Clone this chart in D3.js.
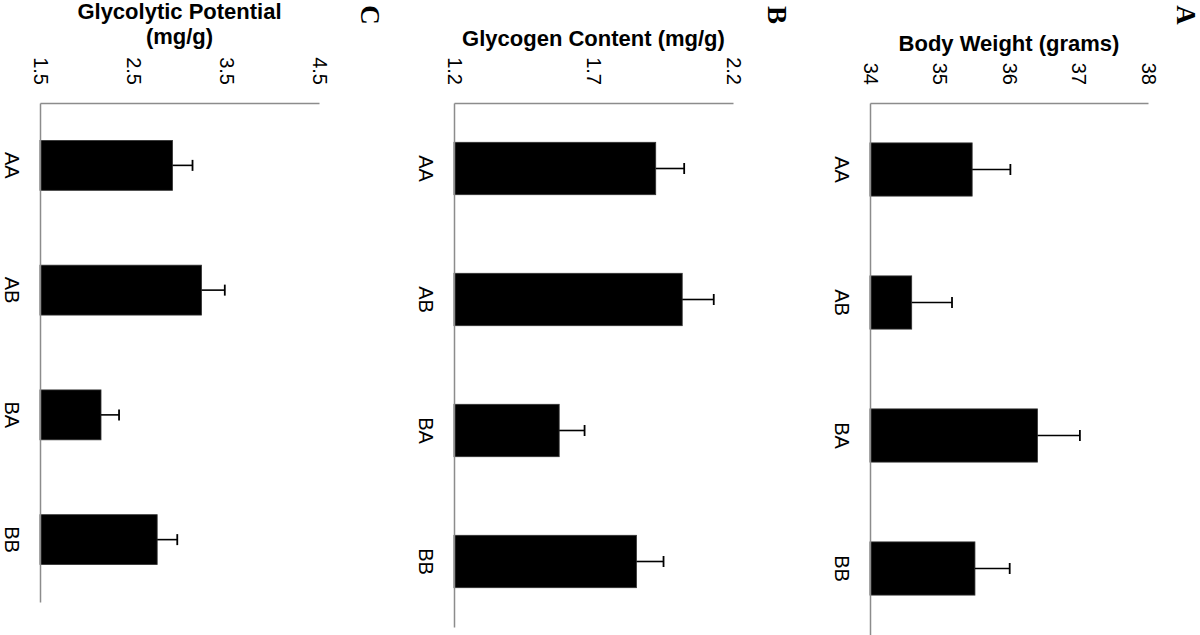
<!DOCTYPE html>
<html>
<head>
<meta charset="utf-8">
<script src="https://cdn.jsdelivr.net/npm/d3@7"></script>
<style>
  body { margin: 0; background: #fff; }
  svg { display: block; font-family: "Liberation Sans", Arial, sans-serif; }
</style>
</head>
<body>
<svg id="chart" width="1200" height="635"></svg>
<script>
// genotypes, shared by all three panels
const genotypes = ["AA", "AB", "BA", "BB"];

// A - body weight
const weightMean = [35.47, 34.6, 36.41, 35.51];
const weightErr = [0.55, 0.58, 0.61, 0.5];
const weightTicks = [34, 35, 36, 37, 38];

// B - glycogen content
const glycogenMean = [1.923, 2.018, 1.577, 1.854];
const glycogenErr = [0.102, 0.113, 0.091, 0.097];
const glycogenTicks = [1.2, 1.7, 2.2];

// C - glycolytic potential
const potentialMean = [2.925, 3.237, 2.156, 2.76];
const potentialErr = [0.215, 0.25, 0.194, 0.216];
const potentialTicks = [1.5, 2.5, 3.5, 4.5];

const svg = d3.select("#chart");
const axisColor = "#8c8c8c";

function drawPanel(opts) {
    const x = d3.scaleLinear()
        .domain(d3.extent(opts.ticks))
        .range([opts.left, opts.right]);
    const y = d3.scaleBand()
        .domain(genotypes)
        .range([opts.top, opts.bottom])
        .paddingInner(0.6)
        .paddingOuter(0.3);

    const g = svg.append("g");
    const rows = genotypes.map((k, i) => ({ key: k, v: opts.mean[i], e: opts.err[i] }));

    // bars
    g.selectAll("rect.bar")
        .data(rows)
        .enter().append("rect")
        .attr("class", "bar")
        .attr("x", x(opts.ticks[0]))
        .attr("y", d => y(d.key))
        .attr("width", d => x(d.v) - x(opts.ticks[0]))
        .attr("height", y.bandwidth())
        .attr("fill", "#000")
        .attr("stroke", "#333")
        .attr("stroke-width", 0.8);

    // error bars (upper side only)
    const eb = g.selectAll("g.err")
        .data(rows)
        .enter().append("g")
        .attr("class", "err")
        .attr("transform", d => `translate(0,${y(d.key) + y.bandwidth() / 2})`);
    eb.append("line")
        .attr("x1", d => x(d.v))
        .attr("x2", d => x(d.v + d.e))
        .attr("stroke", "#000")
        .attr("stroke-width", 1.6);
    eb.append("line")
        .attr("x1", d => x(d.v + d.e))
        .attr("x2", d => x(d.v + d.e))
        .attr("y1", -5.5)
        .attr("y2", 5.5)
        .attr("stroke", "#000")
        .attr("stroke-width", 1.8);

    // value axis (top)
    const top = g.append("g")
        .attr("transform", `translate(0,${opts.top})`)
        .call(d3.axisTop(x).tickValues(opts.ticks).tickSize(0).tickPadding(0)
            .tickFormat(opts.fmt));
    top.select(".domain").attr("stroke", axisColor).attr("stroke-width", 1.5);
    top.selectAll("text")
        .attr("font-size", 20)
        .attr("fill", "#000")
        .attr("text-anchor", "end")
        .attr("dominant-baseline", "central")
        .attr("dy", null)
        .attr("y", null)
        .attr("transform", "translate(0,-18) rotate(90)");

    // category axis (left)
    const left = g.append("g")
        .attr("transform", `translate(${opts.left},0)`)
        .call(d3.axisLeft(y).tickSize(0).tickPadding(0));
    left.select(".domain").attr("stroke", axisColor).attr("stroke-width", 1.5);
    left.selectAll("text")
        .attr("font-size", 20)
        .attr("fill", "#000")
        .attr("text-anchor", "middle")
        .attr("dominant-baseline", "central")
        .attr("x", null)
        .attr("dy", null)
        .attr("transform", "translate(-28,0) rotate(90)");

    // axis title (upright)
    const cx = (opts.left + opts.right) / 2;
    const title = g.append("text")
        .attr("x", cx)
        .attr("text-anchor", "middle")
        .attr("font-size", 22)
        .attr("font-weight", "bold");
    opts.title.forEach((line, i) => {
        title.append("tspan")
            .attr("x", cx)
            .attr("y", opts.titleY[i])
            .text(line);
    });

    // panel letter
    svg.append("text")
        .attr("transform", `translate(${opts.letterX},15) rotate(90)`)
        .attr("text-anchor", "middle")
        .attr("dominant-baseline", "central")
        .attr("font-family", "'Liberation Serif', 'Times New Roman', serif")
        .attr("font-weight", "bold")
        .attr("font-size", 27)
        .text(opts.letter);
}

drawPanel({
    mean: weightMean, err: weightErr, ticks: weightTicks, fmt: d3.format("d"),
    left: 870, right: 1148, top: 103, bottom: 635,
    title: ["Body Weight (grams)"], titleY: [51],
    letter: "A", letterX: 1186
});

drawPanel({
    mean: glycogenMean, err: glycogenErr, ticks: glycogenTicks, fmt: d3.format(".1f"),
    left: 454, right: 733, top: 103, bottom: 627,
    title: ["Glycogen Content (mg/g)"], titleY: [46],
    letter: "B", letterX: 777
});

drawPanel({
    mean: potentialMean, err: potentialErr, ticks: potentialTicks, fmt: d3.format(".1f"),
    left: 40, right: 319, top: 103, bottom: 602,
    title: ["Glycolytic Potential", "(mg/g)"], titleY: [19, 44],
    letter: "C", letterX: 370
});
</script>
</body>
</html>
